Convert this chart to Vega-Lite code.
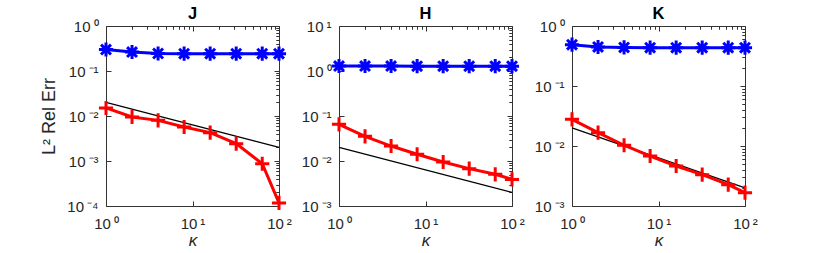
{
  "$schema": "https://vega.github.io/schema/vega-lite/v6.json",
  "background": "white",
  "padding": {"left": 40, "top": 5, "right": 5, "bottom": 5},
  "bounds": "flush",
  "spacing": 60,
  "config": {
    "font": "Liberation Sans",
    "view": {"stroke": "#333333", "strokeWidth": 1},
    "axis": {
      "domain": false, "tickColor": "#333333", "labelColor": "#262626", "titleColor": "#262626",
      "labelFont": "Liberation Sans", "labelFontSize": 15, "grid": false, "labelPadding": 13,
      "labelFlush": false, "labelOverlap": false, "tickWidth": 1,
      "titleFont": "Liberation Sans", "titleFontWeight": "normal", "titleFontSize": 17
    },
    "axisX": {"labelPadding": 15},
    "title": {"font": "Liberation Sans", "fontSize": 16.5, "fontWeight": "bold", "color": "black", "offset": -3, "frame": "group"}
  },
  "datasets": {
    "d": [
      {"p": "J", "s": "blue", "k": 1, "v": 0.30}, {"p": "J", "s": "blue", "k": 2, "v": 0.264}, {"p": "J", "s": "blue", "k": 4, "v": 0.245}, {"p": "J", "s": "blue", "k": 8, "v": 0.243}, {"p": "J", "s": "blue", "k": 16, "v": 0.243}, {"p": "J", "s": "blue", "k": 32, "v": 0.243}, {"p": "J", "s": "blue", "k": 64, "v": 0.243}, {"p": "J", "s": "blue", "k": 100, "v": 0.243},
      {"p": "J", "s": "red", "k": 1, "v": 0.0151}, {"p": "J", "s": "red", "k": 2, "v": 0.0095}, {"p": "J", "s": "red", "k": 4, "v": 0.0080}, {"p": "J", "s": "red", "k": 8, "v": 0.0057}, {"p": "J", "s": "red", "k": 16, "v": 0.00427}, {"p": "J", "s": "red", "k": 32, "v": 0.00243}, {"p": "J", "s": "red", "k": 64, "v": 0.00087}, {"p": "J", "s": "red", "k": 100, "v": 0.000117},
      {"p": "J", "s": "ref", "k": 1, "v": 0.02}, {"p": "J", "s": "ref", "k": 100, "v": 0.002},
      {"p": "H", "s": "blue", "k": 1, "v": 1.29}, {"p": "H", "s": "blue", "k": 2, "v": 1.29}, {"p": "H", "s": "blue", "k": 4, "v": 1.29}, {"p": "H", "s": "blue", "k": 8, "v": 1.28}, {"p": "H", "s": "blue", "k": 16, "v": 1.28}, {"p": "H", "s": "blue", "k": 32, "v": 1.28}, {"p": "H", "s": "blue", "k": 64, "v": 1.28}, {"p": "H", "s": "blue", "k": 100, "v": 1.28},
      {"p": "H", "s": "red", "k": 1, "v": 0.0653}, {"p": "H", "s": "red", "k": 2, "v": 0.0353}, {"p": "H", "s": "red", "k": 4, "v": 0.0215}, {"p": "H", "s": "red", "k": 8, "v": 0.0141}, {"p": "H", "s": "red", "k": 16, "v": 0.0095}, {"p": "H", "s": "red", "k": 32, "v": 0.00676}, {"p": "H", "s": "red", "k": 64, "v": 0.00506}, {"p": "H", "s": "red", "k": 100, "v": 0.0039},
      {"p": "H", "s": "ref", "k": 1, "v": 0.02}, {"p": "H", "s": "ref", "k": 100, "v": 0.002},
      {"p": "K", "s": "blue", "k": 1, "v": 0.489}, {"p": "K", "s": "blue", "k": 2, "v": 0.447}, {"p": "K", "s": "blue", "k": 4, "v": 0.44}, {"p": "K", "s": "blue", "k": 8, "v": 0.435}, {"p": "K", "s": "blue", "k": 16, "v": 0.435}, {"p": "K", "s": "blue", "k": 32, "v": 0.435}, {"p": "K", "s": "blue", "k": 64, "v": 0.435}, {"p": "K", "s": "blue", "k": 100, "v": 0.435},
      {"p": "K", "s": "red", "k": 1, "v": 0.0278}, {"p": "K", "s": "red", "k": 2, "v": 0.0167}, {"p": "K", "s": "red", "k": 4, "v": 0.0103}, {"p": "K", "s": "red", "k": 8, "v": 0.0068}, {"p": "K", "s": "red", "k": 16, "v": 0.00464}, {"p": "K", "s": "red", "k": 32, "v": 0.00333}, {"p": "K", "s": "red", "k": 64, "v": 0.00227}, {"p": "K", "s": "red", "k": 100, "v": 0.00167},
      {"p": "K", "s": "ref", "k": 1, "v": 0.02}, {"p": "K", "s": "ref", "k": 100, "v": 0.002}
    ]
  },
  "data": {"name": "d"},
  "hconcat": [
    {
      "width": 173, "height": 180,
      "title": "J",
      "transform": [{"filter": "datum.p == 'J'"}],
      "resolve": {"axis": {"x": "independent", "y": "independent"}},
      "layer": [
        {"transform": [{"filter": "datum.s == 'ref'"}], "mark": {"type": "line", "color": "black", "strokeWidth": 1.2},
         "encoding": {
           "x": {"field": "k", "type": "quantitative", "title": "κ", "scale": {"type": "log", "domain": [1, 100], "nice": false},
             "axis": {"values": [1, 10, 100], "tickSize": -5, "titleFontStyle": "italic", "titlePadding": 1, "titleFontSize": 17,
               "labelExpr": "'10\u2009' + (round(log(datum.value)/LN10) < 0 ? '⁻' : '') + ['⁰','¹','²','³','⁴'][abs(round(log(datum.value)/LN10))]"}},
           "y": {"field": "v", "type": "quantitative", "title": "L² Rel Err", "scale": {"type": "log", "domain": [0.0001, 1], "nice": false},
             "axis": {"values": [0.0001, 0.001, 0.01, 0.1, 1], "tickSize": -5, "titlePadding": 8, "titleFontSize": 18,
               "labelExpr": "'10\u2009' + (round(log(datum.value)/LN10) < 0 ? '⁻' : '') + ['⁰','¹','²','³','⁴'][abs(round(log(datum.value)/LN10))]"}}
         }},
        {"transform": [{"filter": "datum.s == 'red'"}], "mark": {"type": "line", "color": "#ff0000", "strokeWidth": 3},
         "encoding": {
           "x": {"field": "k", "type": "quantitative", "axis": {"values": [2,3,4,5,6,7,8,9,20,30,40,50,60,70,80,90], "labels": false, "tickSize": -3, "title": null}},
           "y": {"field": "v", "type": "quantitative", "axis": {"values": [0.0002,0.0003,0.0004,0.0005,0.0006,0.0007,0.0008,0.0009,0.002,0.003,0.004,0.005,0.006,0.007,0.008,0.009,0.02,0.03,0.04,0.05,0.06,0.07,0.08,0.09,0.2,0.3,0.4,0.5,0.6,0.7,0.8,0.9], "labels": false, "tickSize": -3, "title": null}}
         }},
        {"transform": [{"filter": "datum.s == 'red'"}], "mark": {"type": "point", "shape": "M-1,0L1,0M0,-1L0,1", "filled": false, "stroke": "#ff0000", "strokeWidth": 3, "size": 200, "opacity": 1},
         "encoding": {
           "x": {"field": "k", "type": "quantitative", "axis": {"orient": "top", "values": [1, 10, 100], "labels": false, "tickSize": -5, "title": null}},
           "y": {"field": "v", "type": "quantitative", "axis": {"orient": "right", "values": [0.0001, 0.001, 0.01, 0.1, 1], "labels": false, "tickSize": -5, "title": null}}
         }},
        {"transform": [{"filter": "datum.s == 'blue'"}], "mark": {"type": "line", "color": "#0000ff", "strokeWidth": 3},
         "encoding": {
           "x": {"field": "k", "type": "quantitative", "axis": {"orient": "top", "values": [2,3,4,5,6,7,8,9,20,30,40,50,60,70,80,90], "labels": false, "tickSize": -3, "title": null}},
           "y": {"field": "v", "type": "quantitative", "axis": {"orient": "right", "values": [0.0002,0.0003,0.0004,0.0005,0.0006,0.0007,0.0008,0.0009,0.002,0.003,0.004,0.005,0.006,0.007,0.008,0.009,0.02,0.03,0.04,0.05,0.06,0.07,0.08,0.09,0.2,0.3,0.4,0.5,0.6,0.7,0.8,0.9], "labels": false, "tickSize": -3, "title": null}}
         }},
        {"transform": [{"filter": "datum.s == 'blue'"}], "mark": {"type": "point", "shape": "M-1,0L1,0M0,-1L0,1M-0.7,-0.7L0.7,0.7M-0.7,0.7L0.7,-0.7", "filled": false, "stroke": "#0000ff", "strokeWidth": 3, "size": 200, "opacity": 1},
         "encoding": {
           "x": {"field": "k", "type": "quantitative", "axis": null},
           "y": {"field": "v", "type": "quantitative", "axis": null}
         }}
      ]
    },
    {
      "width": 173, "height": 180,
      "title": "H",
      "transform": [{"filter": "datum.p == 'H'"}],
      "resolve": {"axis": {"x": "independent", "y": "independent"}},
      "layer": [
        {"transform": [{"filter": "datum.s == 'ref'"}], "mark": {"type": "line", "color": "black", "strokeWidth": 1.2},
         "encoding": {
           "x": {"field": "k", "type": "quantitative", "title": "κ", "scale": {"type": "log", "domain": [1, 100], "nice": false},
             "axis": {"values": [1, 10, 100], "tickSize": -5, "titleFontStyle": "italic", "titlePadding": 1, "titleFontSize": 17,
               "labelExpr": "'10\u2009' + (round(log(datum.value)/LN10) < 0 ? '⁻' : '') + ['⁰','¹','²','³','⁴'][abs(round(log(datum.value)/LN10))]"}},
           "y": {"field": "v", "type": "quantitative", "title": null, "scale": {"type": "log", "domain": [0.001, 10], "nice": false},
             "axis": {"values": [0.001, 0.01, 0.1, 1, 10], "tickSize": -5,
               "labelExpr": "'10\u2009' + (round(log(datum.value)/LN10) < 0 ? '⁻' : '') + ['⁰','¹','²','³','⁴'][abs(round(log(datum.value)/LN10))]"}}
         }},
        {"transform": [{"filter": "datum.s == 'red'"}], "mark": {"type": "line", "color": "#ff0000", "strokeWidth": 3},
         "encoding": {
           "x": {"field": "k", "type": "quantitative", "axis": {"values": [2,3,4,5,6,7,8,9,20,30,40,50,60,70,80,90], "labels": false, "tickSize": -3, "title": null}},
           "y": {"field": "v", "type": "quantitative", "axis": {"values": [0.002,0.003,0.004,0.005,0.006,0.007,0.008,0.009,0.02,0.03,0.04,0.05,0.06,0.07,0.08,0.09,0.2,0.3,0.4,0.5,0.6,0.7,0.8,0.9,2,3,4,5,6,7,8,9], "labels": false, "tickSize": -3, "title": null}}
         }},
        {"transform": [{"filter": "datum.s == 'red'"}], "mark": {"type": "point", "shape": "M-1,0L1,0M0,-1L0,1", "filled": false, "stroke": "#ff0000", "strokeWidth": 3, "size": 200, "opacity": 1},
         "encoding": {
           "x": {"field": "k", "type": "quantitative", "axis": {"orient": "top", "values": [1, 10, 100], "labels": false, "tickSize": -5, "title": null}},
           "y": {"field": "v", "type": "quantitative", "axis": {"orient": "right", "values": [0.001, 0.01, 0.1, 1, 10], "labels": false, "tickSize": -5, "title": null}}
         }},
        {"transform": [{"filter": "datum.s == 'blue'"}], "mark": {"type": "line", "color": "#0000ff", "strokeWidth": 3},
         "encoding": {
           "x": {"field": "k", "type": "quantitative", "axis": {"orient": "top", "values": [2,3,4,5,6,7,8,9,20,30,40,50,60,70,80,90], "labels": false, "tickSize": -3, "title": null}},
           "y": {"field": "v", "type": "quantitative", "axis": {"orient": "right", "values": [0.002,0.003,0.004,0.005,0.006,0.007,0.008,0.009,0.02,0.03,0.04,0.05,0.06,0.07,0.08,0.09,0.2,0.3,0.4,0.5,0.6,0.7,0.8,0.9,2,3,4,5,6,7,8,9], "labels": false, "tickSize": -3, "title": null}}
         }},
        {"transform": [{"filter": "datum.s == 'blue'"}], "mark": {"type": "point", "shape": "M-1,0L1,0M0,-1L0,1M-0.7,-0.7L0.7,0.7M-0.7,0.7L0.7,-0.7", "filled": false, "stroke": "#0000ff", "strokeWidth": 3, "size": 200, "opacity": 1},
         "encoding": {
           "x": {"field": "k", "type": "quantitative", "axis": null},
           "y": {"field": "v", "type": "quantitative", "axis": null}
         }}
      ]
    },
    {
      "width": 173, "height": 180,
      "title": "K",
      "transform": [{"filter": "datum.p == 'K'"}],
      "resolve": {"axis": {"x": "independent", "y": "independent"}},
      "layer": [
        {"transform": [{"filter": "datum.s == 'ref'"}], "mark": {"type": "line", "color": "black", "strokeWidth": 1.2},
         "encoding": {
           "x": {"field": "k", "type": "quantitative", "title": "κ", "scale": {"type": "log", "domain": [1, 100], "nice": false},
             "axis": {"values": [1, 10, 100], "tickSize": -5, "titleFontStyle": "italic", "titlePadding": 1, "titleFontSize": 17,
               "labelExpr": "'10\u2009' + (round(log(datum.value)/LN10) < 0 ? '⁻' : '') + ['⁰','¹','²','³','⁴'][abs(round(log(datum.value)/LN10))]"}},
           "y": {"field": "v", "type": "quantitative", "title": null, "scale": {"type": "log", "domain": [0.001, 1], "nice": false},
             "axis": {"values": [0.001, 0.01, 0.1, 1], "tickSize": -5,
               "labelExpr": "'10\u2009' + (round(log(datum.value)/LN10) < 0 ? '⁻' : '') + ['⁰','¹','²','³','⁴'][abs(round(log(datum.value)/LN10))]"}}
         }},
        {"transform": [{"filter": "datum.s == 'red'"}], "mark": {"type": "line", "color": "#ff0000", "strokeWidth": 3},
         "encoding": {
           "x": {"field": "k", "type": "quantitative", "axis": {"values": [2,3,4,5,6,7,8,9,20,30,40,50,60,70,80,90], "labels": false, "tickSize": -3, "title": null}},
           "y": {"field": "v", "type": "quantitative", "axis": {"values": [0.002,0.003,0.004,0.005,0.006,0.007,0.008,0.009,0.02,0.03,0.04,0.05,0.06,0.07,0.08,0.09,0.2,0.3,0.4,0.5,0.6,0.7,0.8,0.9], "labels": false, "tickSize": -3, "title": null}}
         }},
        {"transform": [{"filter": "datum.s == 'red'"}], "mark": {"type": "point", "shape": "M-1,0L1,0M0,-1L0,1", "filled": false, "stroke": "#ff0000", "strokeWidth": 3, "size": 200, "opacity": 1},
         "encoding": {
           "x": {"field": "k", "type": "quantitative", "axis": {"orient": "top", "values": [1, 10, 100], "labels": false, "tickSize": -5, "title": null}},
           "y": {"field": "v", "type": "quantitative", "axis": {"orient": "right", "values": [0.001, 0.01, 0.1, 1], "labels": false, "tickSize": -5, "title": null}}
         }},
        {"transform": [{"filter": "datum.s == 'blue'"}], "mark": {"type": "line", "color": "#0000ff", "strokeWidth": 3},
         "encoding": {
           "x": {"field": "k", "type": "quantitative", "axis": {"orient": "top", "values": [2,3,4,5,6,7,8,9,20,30,40,50,60,70,80,90], "labels": false, "tickSize": -3, "title": null}},
           "y": {"field": "v", "type": "quantitative", "axis": {"orient": "right", "values": [0.002,0.003,0.004,0.005,0.006,0.007,0.008,0.009,0.02,0.03,0.04,0.05,0.06,0.07,0.08,0.09,0.2,0.3,0.4,0.5,0.6,0.7,0.8,0.9], "labels": false, "tickSize": -3, "title": null}}
         }},
        {"transform": [{"filter": "datum.s == 'blue'"}], "mark": {"type": "point", "shape": "M-1,0L1,0M0,-1L0,1M-0.7,-0.7L0.7,0.7M-0.7,0.7L0.7,-0.7", "filled": false, "stroke": "#0000ff", "strokeWidth": 3, "size": 200, "opacity": 1},
         "encoding": {
           "x": {"field": "k", "type": "quantitative", "axis": null},
           "y": {"field": "v", "type": "quantitative", "axis": null}
         }}
      ]
    }
  ]
}
